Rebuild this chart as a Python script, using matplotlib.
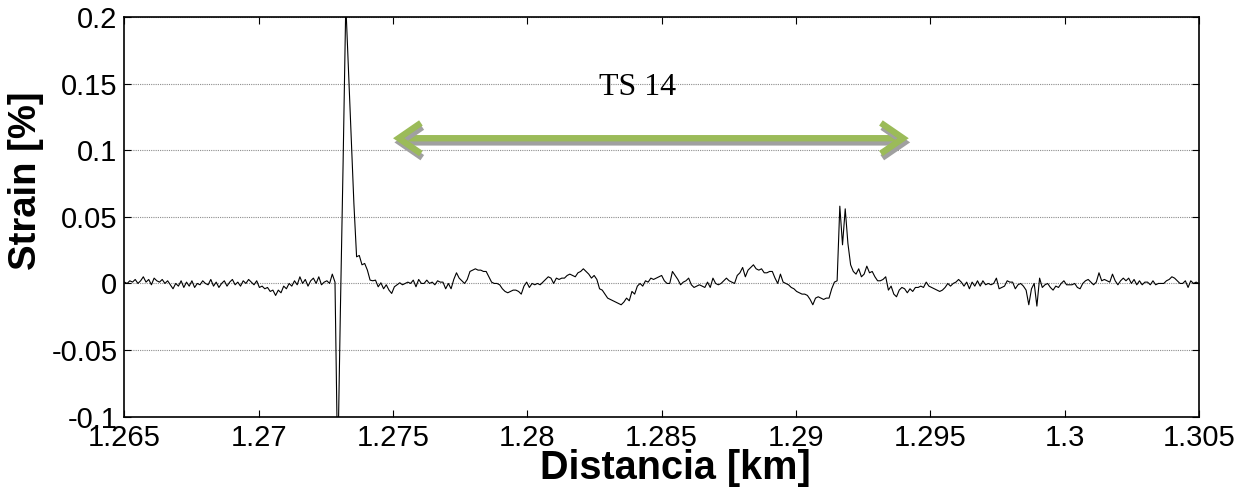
import numpy as np
import matplotlib
matplotlib.use('Agg')
import matplotlib.pyplot as plt
from matplotlib import patheffects as pe

# ---- data (strain in %, sampled uniformly along distance) ----
dist_start = 1.265
dist_end = 1.305

strain_a = [0.001, 0.000, 0.002, 0.001, 0.003, 0.000, 0.002, 0.005, 0.001, 0.003,
            -0.001, 0.004, 0.002, 0.001, 0.003, 0.000, 0.002, -0.001, -0.004, 0.000,
            -0.002, 0.002, -0.003, 0.001, -0.002, 0.002, -0.003, 0.000, -0.001, 0.002,
            0.000, -0.001, 0.003, -0.002, 0.001, -0.003, 0.000, 0.002, -0.002, 0.001,
            0.003, -0.001, 0.001, -0.002, 0.002, 0.000, 0.003, 0.001, -0.001, 0.002,
            -0.003, -0.002, -0.004, -0.003, -0.006, -0.005, -0.009, -0.005, -0.007, -0.002,
            -0.004, 0.000, -0.002, 0.002, -0.001, 0.005, 0.000, 0.003, -0.002, 0.002,
            0.004, 0.000, 0.005, -0.001, 0.001, 0.002, 0.000, 0.007, 0.001, -0.140,
            -0.020, 0.090, 0.210, 0.160, 0.110, 0.060, 0.020, 0.021, 0.014, 0.015,
            0.010, 0.0025, 0.002, 0.0025, -0.0025, 0.0005, -0.004, -0.001, -0.005, -0.0075]
strain_b = [-0.0025, -0.001, 0.0005, -0.001, 0.000, 0.001, 0.000, 0.0025, -0.0025, 0.003,
            0.000, 0.000, 0.0025, 0.000, 0.001, -0.001, 0.002, 0.001, 0.001, -0.004,
            0.000, -0.004, 0.003, 0.008, 0.004, 0.002, 0.000, 0.003, 0.009, 0.010,
            0.011, 0.010, 0.010, 0.009, 0.009, 0.005, 0.001, 0.000, 0.000, -0.001,
            -0.004, -0.006, -0.007, -0.006, -0.005, -0.005, -0.006, -0.008, -0.002, 0.001,
            -0.003, 0.000, -0.001, 0.000, -0.001, 0.001, 0.003, 0.005, 0.004, 0.000,
            0.004, 0.003, 0.004, 0.004, 0.006, 0.007, 0.006, 0.005, 0.008, 0.009,
            0.011, 0.009, 0.007, 0.004, 0.006, 0.003, -0.004, -0.005, -0.008, -0.011,
            -0.012, -0.013, -0.014, -0.015, -0.016, -0.014, -0.011, -0.013, -0.006, -0.008,
            -0.002, 0.000, -0.002, 0.002, 0.001, 0.004, 0.003, 0.004, 0.005, 0.006]
strain_c = [0.002, 0.000, 0.000, 0.009, 0.006, 0.003, -0.001, 0.001, 0.002, 0.004,
            -0.001, -0.003, -0.002, -0.001, -0.002, -0.003, 0.001, -0.003, 0.004, 0.000,
            -0.001, 0.000, 0.002, 0.004, 0.002, 0.001, 0.000, 0.006, 0.008, 0.012,
            0.005, 0.010, 0.012, 0.014, 0.011, 0.010, 0.011, 0.008, 0.008, 0.009,
            0.009, 0.004, 0.000, 0.007, 0.001, 0.000, -0.001, -0.003, -0.004, -0.006,
            -0.007, -0.008, -0.008, -0.009, -0.012, -0.016, -0.011, -0.010, -0.011, -0.012,
            -0.011, -0.011, -0.004, 0.001, 0.002, 0.058, 0.029, 0.056, 0.030, 0.014,
            0.009, 0.007, 0.011, 0.005, 0.007, 0.013, 0.008, 0.009, 0.005, 0.002,
            0.002, 0.003, 0.005, -0.005, -0.002, -0.008, -0.010, -0.005, -0.003, -0.004,
            -0.007, -0.004, -0.006, -0.003, -0.003, -0.002, -0.003, 0.001, -0.002, -0.003]
strain_d = [-0.004, -0.005, -0.006, -0.005, -0.003, 0.000, -0.002, 0.000, 0.001, 0.003,
            0.001, -0.002, 0.001, -0.004, 0.001, -0.002, 0.002, -0.002, 0.002, -0.001,
            0.000, -0.001, 0.000, 0.004, -0.004, -0.003, -0.002, 0.002, 0.001, 0.001,
            -0.004, -0.001, 0.000, -0.002, -0.005, -0.016, -0.004, 0.000, -0.017, 0.004,
            -0.003, -0.001, 0.000, -0.003, -0.005, -0.002, -0.003, 0.000, 0.002, -0.001,
            -0.001, -0.001, 0.000, -0.003, -0.004, 0.000, 0.002, 0.003, 0.001, -0.001,
            0.001, 0.008, 0.002, 0.003, 0.002, 0.001, 0.007, 0.002, -0.001, 0.002,
            0.004, 0.002, 0.004, 0.000, 0.003, -0.001, 0.002, -0.001, 0.001, 0.001,
            -0.001, 0.002, -0.001, 0.000, 0.000, 0.000, 0.002, 0.003, 0.005, 0.004,
            0.002, 0.000, 0.000, 0.002, -0.003, 0.002, 0.000, 0.001, 0.000]

x_ticks = [1.265, 1.27, 1.275, 1.28, 1.285, 1.29, 1.295, 1.3, 1.305]
x_tick_labels = ['1.265', '1.27', '1.275', '1.28', '1.285', '1.29', '1.295', '1.3', '1.305']
y_ticks = [-0.1, -0.05, 0, 0.05, 0.1, 0.15, 0.2]
y_tick_labels = ['-0.1', '-0.05', '0', '0.05', '0.1', '0.15', '0.2']

arrow_start = 1.2750
arrow_end = 1.2942
arrow_y = 0.109
label_text = 'TS 14'
label_x = 1.2841
label_y = 0.147

strain = np.array(strain_a + strain_b + strain_c + strain_d)
dist = np.linspace(dist_start, dist_end, len(strain))

# ---- figure ----
plt.rcParams['font.family'] = ['Liberation Sans', 'DejaVu Sans']
fig = plt.figure(figsize=(12.53, 4.95), dpi=100)
ax = fig.add_axes([0.0993, 0.1582, 0.8575, 0.8075])

ax.plot(dist, strain, color='black', lw=0.8, zorder=3)

ax.set_xlim(dist_start, dist_end)
ax.set_ylim(-0.1, 0.2)
ax.set_xticks(x_ticks)
ax.set_xticklabels(x_tick_labels)
ax.set_yticks(y_ticks)
ax.set_yticklabels(y_tick_labels)
ax.tick_params(direction='in', top=True, right=True, length=5, width=0.8,
               labelsize=21, pad=5)
ax.yaxis.grid(True, linestyle=(0, (1, 1)), color='#8c8c8c', lw=0.8)
ax.set_axisbelow(True)
for s in ax.spines.values():
    s.set_linewidth(1.2)
    s.set_color('black')

ax.set_xlabel('Distancia [km]', fontsize=28.5, fontweight='bold')
ax.xaxis.set_label_coords(0.513, -0.082)
ax.set_ylabel('Strain [%]', fontsize=27.5, fontweight='bold')
ax.yaxis.set_label_coords(-0.075, 0.59)

ax.annotate('', xy=(arrow_end, arrow_y), xytext=(arrow_start, arrow_y),
            arrowprops=dict(arrowstyle='<->,head_length=0.8,head_width=0.55',
                            color='#9BBB59', lw=4.6, shrinkA=0, shrinkB=0,
                            mutation_scale=20, joinstyle='miter', capstyle='butt',
                            path_effects=[pe.SimpleLineShadow(offset=(1, -3), shadow_color='#a0a0a0', alpha=1),
                                          pe.Normal()]),
            zorder=4)

ax.text(label_x, label_y, label_text, family=['Liberation Serif', 'DejaVu Serif'],
        fontsize=23, ha='center', va='center', zorder=5)

fig.savefig('out.png', dpi=100)
